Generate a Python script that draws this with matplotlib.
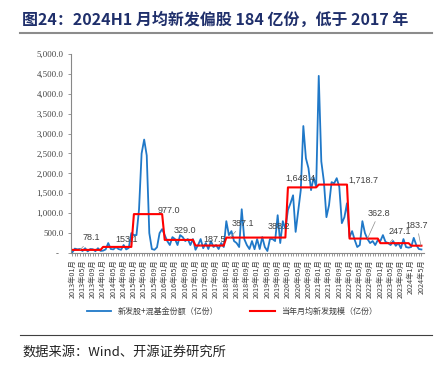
import numpy as np
import matplotlib.pyplot as plt
from matplotlib.lines import Line2D

# monthly new equity + hybrid fund shares (100m), 2013-01 .. 2024-05
blue_2013 = [15, 110, 90, 100, 50, 120, 40, 100, 95, 45, 120, 52]
blue_2014 = [60, 90, 250, 100, 90, 150, 100, 80, 200, 90, 127, 500]
blue_2015 = [450, 450, 1100, 2500, 2850, 2450, 500, 100, 80, 144, 500, 600]
blue_2016 = [450, 300, 200, 400, 350, 200, 450, 400, 300, 350, 200, 350]
blue_2017 = [80, 200, 350, 120, 250, 100, 300, 150, 200, 100, 250, 150]
blue_2018 = [800, 450, 550, 300, 250, 150, 1100, 350, 200, 100, 300, 95]
blue_2019 = [350, 100, 400, 150, 50, 350, 350, 300, 950, 250, 800, 610]
blue_2020 = [1080, 1250, 1450, 530, 1051, 1580, 3190, 2380, 2130, 1580, 1900, 1660]
blue_2021 = [4450, 2300, 1800, 900, 1200, 1780, 1750, 1880, 1664, 750, 900, 1250]
blue_2022 = [400, 550, 330, 150, 200, 800, 500, 350, 250, 300, 200, 324]
blue_2023 = [300, 450, 280, 250, 200, 300, 180, 250, 120, 350, 150, 135]
blue_2024 = [150, 380, 200, 100, 88.5]

years = list(range(2013, 2025))
year_avg = [78.1, 153.1, 977.0, 329.0, 187.5, 387.1, 388.2, 1648.4, 1718.7, 362.8, 247.1, 183.7]
months_in_year = [12] * 11 + [5]

blue = (blue_2013 + blue_2014 + blue_2015 + blue_2016 + blue_2017 + blue_2018 +
        blue_2019 + blue_2020 + blue_2021 + blue_2022 + blue_2023 + blue_2024)
red = []
for avg, n in zip(year_avg, months_in_year):
    red += [avg] * n

labels = []
for y, n in zip(years, months_in_year):
    for m in range(1, n + 1):
        if y == 2024:
            labels.append(f'{y}年{m}月')
        else:
            labels.append(f'{y}年{m:02d}月')

# data labels: (text, month index of label, y of label, leader target month or None)
label_pos = [('78.1', 7.4, 377, 3), ('153.1', 21, 351, None), ('977.0', 37.7, 1079, None),
             ('329.0', 44, 577, None), ('187.5', 55.6, 351, 50), ('387.1', 66.5, 753, 61.5),
             ('388.2', 80.5, 678, None), ('1,648.4', 88.7, 1883, None), ('1,718.7', 113.2, 1832, None),
             ('362.8', 119.5, 1004, 115), ('247.1', 127.6, 552, 123.5), ('183.7', 134.2, 703, 135.8)]

plt.rcParams['font.family'] = ['Noto Sans CJK SC', 'DejaVu Sans']

fig = plt.figure(figsize=(4.45, 3.69), dpi=100)
ax = fig.add_axes([71 / 445, 1 - 253 / 369, (424 - 71) / 445, (253 - 54) / 369])

x = np.arange(len(blue))
ax.plot(x, blue, color='#1f78c8', lw=1.3, label='新发股+混基金份额（亿份）')
ax.plot(x, red, color='#ff0000', lw=1.5, label='当年月均新发规模（亿份）')

ax.set_xlim(-0.5, 137)
ax.set_ylim(0, 5000)
ax.set_yticks(np.arange(0, 5001, 500))
ax.set_yticklabels(['-  '] + [f'{v:,.1f}' for v in np.arange(500, 5001, 500)],
                   family='Liberation Serif', fontsize=6.3, color='#404040')
ax.set_xticks(x[::4])
ax.set_xticklabels(labels[::4], rotation=90, fontsize=5.2, color='#404040')
ax.set_xticks(x, minor=True)
ax.tick_params(axis='x', which='both', length=2.5, width=0.6, color='#888888', pad=2)
ax.tick_params(axis='y', length=2.5, width=0.6, color='#888888', pad=3)
for s in ['top', 'right']:
    ax.spines[s].set_visible(False)
for s in ['left', 'bottom']:
    ax.spines[s].set_color('#888888')
    ax.spines[s].set_linewidth(0.8)

for text, lx, ly, target in label_pos:
    i = year_avg[[t for t, *_ in label_pos].index(text)]
    if target is None:
        ax.text(lx, ly, text, ha='center', va='center', fontsize=6.5,
                family='Liberation Sans', color='#404040')
    else:
        ax.annotate(text, xy=(target, i), xytext=(lx, ly), ha='center', va='center',
                    fontsize=6.5, family='Liberation Sans', color='#404040',
                    arrowprops=dict(arrowstyle='-', color='#8c8c8c', lw=0.5, shrinkA=1, shrinkB=0))

fig.legend(loc='center', bbox_to_anchor=(232 / 445, 1 - 311 / 369), ncol=2, frameon=False,
           fontsize=5.8, handlelength=3, columnspacing=4, labelcolor='#404040')

fig.text(22 / 445, 1 - 20 / 369, '图24：2024H1 月均新发偏股 184 亿份，低于 2017 年',
         fontsize=11.5, fontweight='bold', color='#1f2f6b', va='center', ha='left')
fig.add_artist(Line2D([20 / 445, 432 / 445], [1 - 33 / 369] * 2, color='#8c8c8c', lw=1.5))
fig.add_artist(Line2D([20 / 445, 432 / 445], [1 - 335 / 369] * 2, color='#404040', lw=0.8))
fig.text(22 / 445, 1 - 352 / 369, '数据来源：Wind、开源证券研究所', fontsize=9.5,
         color='#222222', va='center', ha='left')

fig.savefig('out.png', dpi=100)
